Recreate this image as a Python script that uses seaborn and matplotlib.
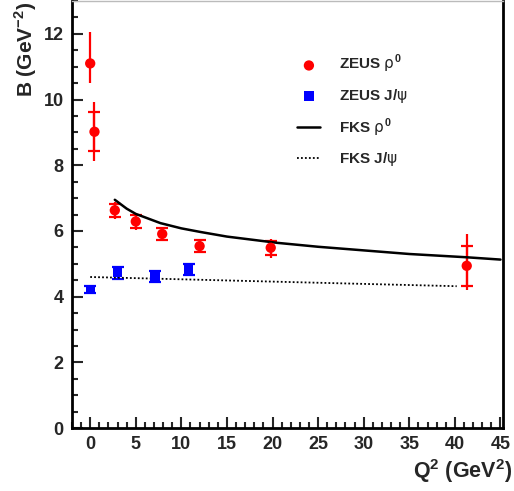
import numpy as np
import pandas as pd
import matplotlib
matplotlib.use('Agg')
import matplotlib.pyplot as plt
import seaborn as sns
from matplotlib.ticker import MultipleLocator

# ZEUS rho0 data
rho_q2 = [0.0, 0.47, 2.7, 5.0, 7.9, 12.0, 19.8, 41.3]
rho_b = [11.1, 9.02, 6.63, 6.29, 5.91, 5.54, 5.49, 4.94]
rho_stat = [0.0, 0.6, 0.2, 0.2, 0.18, 0.18, 0.22, 0.6]
rho_up = [0.95, 0.9, 0.25, 0.25, 0.22, 0.2, 0.26, 0.97]
rho_dn = [0.6, 0.9, 0.25, 0.25, 0.22, 0.2, 0.31, 0.74]

# ZEUS J/psi data
jpsi_q2 = [0.0, 3.0, 7.1, 10.8]
jpsi_b = [4.22, 4.73, 4.61, 4.82]
jpsi_err = [0.12, 0.18, 0.17, 0.17]

# FKS curves
fks_rho_q2 = [2.7, 4, 5, 7.7, 10, 12.1, 15, 20.5, 25, 30, 35, 41.3, 45]
fks_rho_b = [6.95, 6.68, 6.52, 6.24, 6.08, 5.97, 5.83, 5.64, 5.52, 5.41, 5.3, 5.2, 5.13]
fks_jpsi_q2 = [0, 10, 20, 30, 40.2]
fks_jpsi_b = [4.6, 4.53, 4.46, 4.39, 4.32]

sns.set_style('ticks')
plt.rcParams['font.family'] = ['Liberation Sans', 'DejaVu Sans']
plt.rcParams['mathtext.fontset'] = 'custom'
plt.rcParams['mathtext.rm'] = 'Liberation Sans'
plt.rcParams['mathtext.bf'] = 'Liberation Sans:bold'
plt.rcParams['mathtext.it'] = 'DejaVu Sans'

fig = plt.figure(figsize=(5.14, 4.91), dpi=100)
ax = fig.add_axes([0.140, 0.128, 0.839, 0.870])

red = '#ff0000'
blue = '#0000ff'

# total errors (no caps) and stat errors (with caps)
ax.errorbar(rho_q2, rho_b, yerr=[rho_dn, rho_up], fmt='none', ecolor=red,
            elinewidth=1.6, capsize=0, zorder=2)
ax.errorbar(rho_q2[1:], rho_b[1:], yerr=rho_stat[1:], fmt='none', ecolor=red,
            elinewidth=1.6, capsize=4, capthick=1.6, zorder=2)
ax.errorbar(jpsi_q2, jpsi_b, yerr=jpsi_err, fmt='none', ecolor=blue,
            elinewidth=1.6, capsize=4, capthick=1.6, zorder=2)

rho_df = pd.DataFrame({'q2': rho_q2, 'b': rho_b})
jpsi_df = pd.DataFrame({'q2': jpsi_q2, 'b': jpsi_b})
sns.scatterplot(data=rho_df, x='q2', y='b', ax=ax, color=red, marker='o', s=55,
                edgecolor='none', label=r'ZEUS $\rho^{\mathbf{0}}$', zorder=3)
sns.scatterplot(data=jpsi_df, x='q2', y='b', ax=ax, color=blue, marker='s', s=45,
                edgecolor='none', label=r'ZEUS J/$\psi$', zorder=3)

fks_rho_df = pd.DataFrame({'q2': fks_rho_q2, 'b': fks_rho_b})
fks_jpsi_df = pd.DataFrame({'q2': fks_jpsi_q2, 'b': fks_jpsi_b})
sns.lineplot(data=fks_rho_df, x='q2', y='b', ax=ax, color='black', lw=1.8,
             label=r'FKS $\rho^{\mathbf{0}}$')
sns.lineplot(data=fks_jpsi_df, x='q2', y='b', ax=ax, color='black', lw=1.3,
             linestyle=(0, (1, 1.2)), label=r'FKS J/$\psi$')

ax.set_xlim(-2, 45.3)
ax.set_ylim(0, 13)
ax.xaxis.set_major_locator(MultipleLocator(5))
ax.xaxis.set_minor_locator(MultipleLocator(1))
ax.yaxis.set_major_locator(MultipleLocator(2))
ax.yaxis.set_minor_locator(MultipleLocator(0.5))
ax.tick_params(which='both', direction='in', top=False, right=False,
               width=1.5, labelsize=13, pad=6)
ax.tick_params(which='major', length=8)
ax.tick_params(which='minor', length=4)
for lab in ax.get_xticklabels() + ax.get_yticklabels():
    lab.set_fontweight('bold')
for side in ['left', 'bottom', 'right']:
    ax.spines[side].set_linewidth(2)
    ax.spines[side].set_color('black')
ax.spines['top'].set_color('#bbbbbb')
ax.spines['top'].set_linewidth(1)

ax.set_xlabel(r'Q$^{\mathbf{2}}$ (GeV$^{\mathbf{2}}$)', fontsize=15.5,
              fontweight='bold', loc='right')
ax.xaxis.set_label_coords(1.021, -0.068)
ax.set_ylabel(r'B (GeV$^{\mathbf{-2}}$)', fontsize=15, fontweight='bold',
              loc='top')
ax.yaxis.set_label_coords(-0.077, 0.998)

leg = ax.legend(loc='upper left', bbox_to_anchor=(0.491, 0.91), frameon=False,
                prop={'weight': 'bold', 'size': 11}, labelspacing=0.75,
                handlelength=1.5, handletextpad=1.2)

fig.savefig('out.png', dpi=100)
